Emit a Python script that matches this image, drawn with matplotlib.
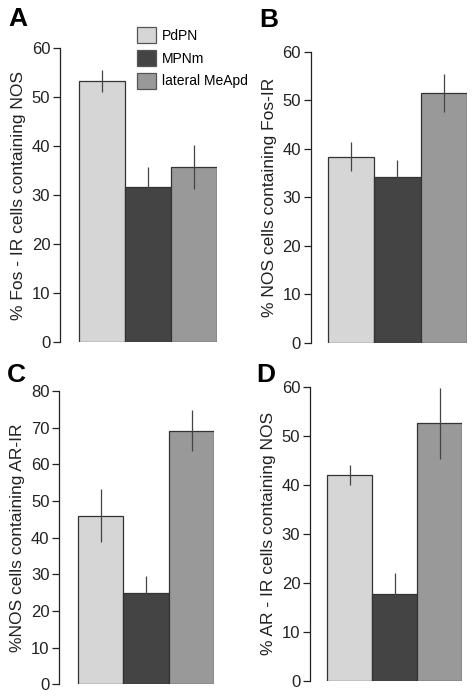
import matplotlib
matplotlib.use("Agg")
import matplotlib.pyplot as plt
from matplotlib.patches import Patch

plt.rcParams['font.family'] = ['Liberation Sans', 'DejaVu Sans']

groups = ["PdPN", "MPNm", "lateral MeApd"]
colors = ["#d6d6d6", "#444444", "#999999"]

vals_A = [53.3, 31.6, 35.7]
err_A = [2.2, 4.2, 4.5]
vals_B = [38.4, 34.1, 51.5]
err_B = [2.9, 3.5, 4.0]
vals_C = [46.0, 25.0, 69.2]
err_C = [7.2, 4.5, 5.7]
vals_D = [42.0, 17.8, 52.5]
err_D = [2.0, 4.3, 7.3]

ylabels = ["% Fos - IR cells containing NOS",
           "% NOS cells containing Fos-IR",
           "%NOS cells containing AR-IR",
           "% AR - IR cells containing NOS"]
ymaxes = [60, 60, 80, 60]
letters = ["A", "B", "C", "D"]

W, H = 474, 698
fig = plt.figure(figsize=(W / 100, H / 100), dpi=100)

# (axis x, right x, top y px, bottom y px, gap fraction)
boxes = [(60, 217, 48, 342, 0.41),
         (310.7, 466.7, 51.7, 343, 0.38),
         (59.3, 214.3, 391, 684.3, 0.41),
         (310, 462.3, 386.7, 681, 0.385)]
letter_pos = [(8, 26), (259, 27), (7, 381.5), (256.5, 381.5)]

data = [(vals_A, err_A), (vals_B, err_B), (vals_C, err_C), (vals_D, err_D)]

for i, ((x0, x1, yt, yb, gap), (v, e)) in enumerate(zip(boxes, data)):
    ax = fig.add_axes([x0 / W, 1 - yb / H, (x1 - x0) / W, (yb - yt) / H])
    xs = list(range(len(groups)))
    ax.bar(xs, v, width=1.0, color=colors, edgecolor="#333333", linewidth=0.9,
           zorder=2)
    ax.errorbar(xs, v, yerr=e, fmt="none", ecolor="#444444", elinewidth=0.9,
                capsize=0, zorder=3)
    ax.set_xlim(-0.5 - gap, 2.5)
    ax.set_ylim(0, ymaxes[i])
    ax.set_yticks(range(0, ymaxes[i] + 1, 10))
    ax.tick_params(axis="y", direction="out", length=5, width=0.9,
                   labelsize=12, pad=2, colors="#222222")
    ax.set_xticks([])
    for s in ["top", "right", "bottom"]:
        ax.spines[s].set_visible(False)
    ax.spines["left"].set_linewidth(0.9)
    ax.spines["left"].set_color("#222222")
    ax.spines["left"].set_bounds(0, ymaxes[i])
    ax.set_ylabel(ylabels[i], fontsize=12.5, color="#222222", labelpad=4)
    ax.patch.set_alpha(0)
    lx, ly = letter_pos[i]
    fig.text(lx / W, 1 - ly / H, letters[i], fontsize=19, fontweight="bold",
             va="baseline", ha="left")
    if i == 0:
        handles = [Patch(facecolor=c, edgecolor="#555555", linewidth=0.9)
                   for c in colors]
        fig.legend(handles, groups, loc="upper left",
                   bbox_to_anchor=(137.3 / W, 1 - 27.3 / H),
                   frameon=False, fontsize=10, handlelength=1.37,
                   handleheight=1.37, handletextpad=0.4, labelspacing=0.5,
                   borderpad=0, borderaxespad=0)

fig.savefig("out.png", dpi=100)
